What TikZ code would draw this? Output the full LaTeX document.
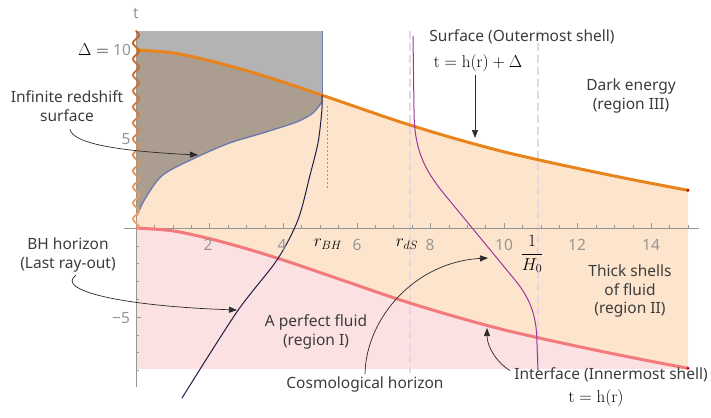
\documentclass[tikz,border=0pt]{standalone}
\usepackage{fontspec}
\usepackage{amsmath}
\newfontfamily\notosans{Noto Sans}
\usetikzlibrary{arrows.meta}
\definecolor{grayf}{RGB}{179,179,179}
\definecolor{brownf}{RGB}{171,157,143}
\definecolor{peachf}{RGB}{253,229,205}
\definecolor{pinkf}{RGB}{252,225,226}
\definecolor{orangec}{RGB}{232,132,30}
\definecolor{redc}{RGB}{242,122,124}
\definecolor{bluec}{RGB}{104,122,176}
\definecolor{purplec}{RGB}{155,55,155}
\definecolor{navyc}{RGB}{30,30,70}
\definecolor{dashp}{RGB}{232,212,226}
\definecolor{axc}{RGB}{150,150,150}
\definecolor{txt}{RGB}{60,60,60}
\definecolor{wavedark}{RGB}{196,98,40}
\definecolor{wavelight}{RGB}{240,172,110}
\begin{document}
\begin{tikzpicture}[x=1pt,y=-1pt,
  lbl/.style={font=\notosans\fontsize{15.5}{18.5}\selectfont, text=txt, align=center, inner sep=0pt},
  ticklbl/.style={font=\notosans\fontsize{15.5}{18}\selectfont, text=axc, inner sep=0pt},
  mth/.style={font=\fontsize{17}{20}\selectfont, text=black, inner sep=0pt},
  arr/.style={draw=txt!70!black, line width=0.7pt, -{Triangle[length=8pt,width=6pt]}},
  axisline/.style={draw=axc, line width=0.8pt},
  dashpink/.style={draw=dashp, line width=1.6pt, dash pattern=on 8pt off 4pt},
]
\useasboundingbox (0,0) rectangle (711,417);
% ---------- data scope ----------
\begin{scope}[shift={(136,228)}, x=36.8pt, y=17.8pt]
  \fill[pinkf] plot[smooth] coordinates {(0,0) (1,-0.16) (2,-0.6) (3,-1.16) (4,-1.8) (5,-2.5) (6,-3.21) (7,-3.92) (8,-4.57) (9,-5.17) (10,-5.72) (11,-6.2) (12,-6.65) (13,-7.08) (14,-7.49) (15,-7.88)} -- (15,-7.92) -- (0,-7.92) -- cycle;
  \fill[grayf] (0,0) rectangle (5.06,11.07);
  \fill[peachf] plot[smooth] coordinates {(0,0) (1,-0.16) (2,-0.6) (3,-1.16) (4,-1.8) (5,-2.5) (6,-3.21) (7,-3.92) (8,-4.57) (9,-5.17) (10,-5.72) (11,-6.2) (12,-6.65) (13,-7.08) (14,-7.49) (15,-7.88)}
     -- plot[smooth] coordinates {(15,2.12) (14,2.51) (13,2.92) (12,3.35) (11,3.8) (10,4.28) (9,4.83) (8,5.43) (7,6.08) (6,6.79) (5,7.5) (4,8.2) (3,8.84) (2,9.4) (1,9.84) (0,10)} -- cycle;
  \begin{scope}
    \clip plot[smooth] coordinates {(0,0) (1,-0.16) (2,-0.6) (3,-1.16) (4,-1.8) (5,-2.5) (6,-3.21) (7,-3.92) (8,-4.57) (9,-5.17) (10,-5.72) (11,-6.2) (12,-6.65) (13,-7.08) (14,-7.49) (15,-7.88)}
     -- plot[smooth] coordinates {(15,2.12) (14,2.51) (13,2.92) (12,3.35) (11,3.8) (10,4.28) (9,4.83) (8,5.43) (7,6.08) (6,6.79) (5,7.5) (4,8.2) (3,8.84) (2,9.4) (1,9.84) (0,10)} -- cycle;
    \fill[brownf] (0,11.07) -- (0,0.7) -- plot[smooth] coordinates {(0.03,0.7) (0.24,1.62) (0.73,2.98) (1.66,3.99) (2.55,4.78) (3.45,5.34) (4.37,5.96) (4.81,6.46) (5.06,7.1)} -- (5.06,11.07) -- cycle;
  \end{scope}
\end{scope}
% dashed pink verticals
\draw[dashpink] (410,31) -- (410,373);
\draw[dashpink] (538,31) -- (538,373);
% axes
\begin{scope}[shift={(136,228)}, x=36.8pt, y=17.8pt]
  \draw[axisline] (-0.33,0) -- (15.3,0);
  \draw[axisline] (0,-8.93) -- (0,11.1);
  \foreach \r in {0.5,1,...,15} \draw[axisline, line width=0.6pt] (\r,0) -- ++(0,3pt);
  \foreach \r in {2,4,...,14} \draw[axisline, line width=0.6pt] (\r,0) -- ++(0,5pt);
  \foreach \t in {-8,...,11} \draw[axisline, line width=0.6pt] (0,\t) -- ++(3pt,0);
  \foreach \t in {-5,5,10} \draw[axisline, line width=0.6pt] (0,\t) -- ++(5pt,0);
  % curves
  \draw[bluec, line width=1.3pt] plot[smooth] coordinates {(0.03,0.7) (0.24,1.62) (0.73,2.98) (1.66,3.99) (2.55,4.78) (3.45,5.34) (4.37,5.96) (4.81,6.46) (5.06,7.1)};
  \draw[bluec!80!gray, line width=0.8pt] (5.06,7.3) -- (5.06,11.07);
  \draw[redc, line width=3pt] plot[smooth] coordinates {(0,0) (1,-0.16) (2,-0.6) (3,-1.16) (4,-1.8) (5,-2.5) (6,-3.21) (7,-3.92) (8,-4.57) (9,-5.17) (10,-5.72) (11,-6.2) (12,-6.65) (13,-7.08) (14,-7.49) (15,-7.88)};
  \draw[orangec, line width=3pt] plot[smooth] coordinates {(0,10) (1,9.84) (2,9.4) (3,8.84) (4,8.2) (5,7.5) (6,6.79) (7,6.08) (8,5.43) (9,4.83) (10,4.28) (11,3.8) (12,3.35) (13,2.92) (14,2.51) (15,2.12)};
  \fill[red!70!black] (15,2.12) circle (1.6pt);
  \fill[red!80!black] (15,-7.88) circle (1.6pt);
  \draw[navyc, line width=1pt] plot[smooth] coordinates {(1.25,-9.55) (2.74,-4.72) (3.83,-1.80) (4.40,0.45) (4.73,2.98) (4.95,4.83) (5.05,6.6) (5.06,7.46)};
\end{scope}
\draw[axc, line width=0.6pt, dash pattern=on 2pt off 2pt] (327,106) -- (327,190);
% purple cosmological horizon
\draw[purplec, line width=1pt] (413,36) -- (414,110) .. controls (414,150) and (424.5,170) .. (445,195) -- (515,280) .. controls (531.4,300) and (537,318) .. (537,345) -- (538,370);
% wavy line along t axis
\foreach \i in {0,...,13} {
  \pgfmathsetmacro\ya{31+14*\i}
  \pgfmathsetmacro\yb{31+14*(\i+1)}
  \pgfmathtruncatemacro\mix{100-7*\i}
  \draw[color=wavedark!\mix!wavelight, line width=1.9pt, line cap=round] plot[domain=\ya:\yb, samples=12, smooth] ({136+3*sin((\x-31)*22.5)},\x);
}
% tick labels
\node[ticklbl] (tl) at (136,13) {t};
\node[ticklbl] (y10) at (122,50) {10};
\node[ticklbl] (y5) at (126,139) {5};
\node[ticklbl] (ym5) at (121,318) {−5};
\node[ticklbl] (x2) at (208,245) {2};
\node[ticklbl] (x4) at (282,245) {4};
\node[ticklbl] (x6) at (357,245) {6};
\node[ticklbl] (x8) at (430,245) {8};
\node[ticklbl] (x10) at (504,245) {10};
\node[ticklbl] (x12) at (577,245) {12};
\node[ticklbl] (x14) at (651,245) {14};
\node[mth] (rbh) at (328,244) {$r_{BH}$};
\node[mth] (rds) at (407,244) {$r_{dS}$};
\node[mth] (hinv) at (532,254) {$\dfrac{1}{H_0}$};
\node[mth, anchor=east] (dlt) at (109,50) {$\Delta=$};
% labels
\node[lbl] (infrs) at (67,106) {Infinite redshift\\surface};
\node[lbl] (bhh) at (68,255) {BH horizon\\(Last ray-out)};
\node[lbl] (surf) at (522,37) {Surface (Outermost shell)};
\node[mth] (eq1) at (478,63) {$\mathrm{t}=\mathrm{h}(\mathrm{r})+\Delta$};
\node[lbl] (dark) at (631,96) {Dark energy\\(region III)};
\node[lbl] (thick) at (630,291) {Thick shells\\of fluid\\(region II)};
\node[lbl] (pf) at (316,332) {A perfect fluid\\(region I)};
\node[lbl] (cosmo) at (365,384) {Cosmological horizon};
\node[lbl] (inter) at (611,375) {Interface (Innermost shell)};
\node[mth] (eq2) at (596,398) {$\mathrm{t}=\mathrm{h}(\mathrm{r})$};
% arrows
\coordinate (tipA) at (198,155);
\coordinate (tipB) at (237,310);
\coordinate (tipC) at (488,258);
\coordinate (tipD) at (487,328);
\coordinate (tipE) at (475,138);
\draw[arr] ([xshift=3pt,yshift=-8pt]infrs.south) .. controls (73,143) and (115,151) .. (tipA);
\draw[arr] ([xshift=8pt,yshift=-3pt]bhh.south) .. controls (55,290) and (120,306) .. (tipB);
\draw[arr] ([yshift=2pt]cosmo.north) .. controls (366,318) and (415,262) .. (tipC);
\draw[arr] ([xshift=-4pt,yshift=-3pt]inter.north west) .. controls (496,362) and (487,346) .. (tipD);
\draw[arr] ([xshift=-3pt,yshift=-3pt]eq1.south) -- (tipE);
\end{tikzpicture}
\end{document}
